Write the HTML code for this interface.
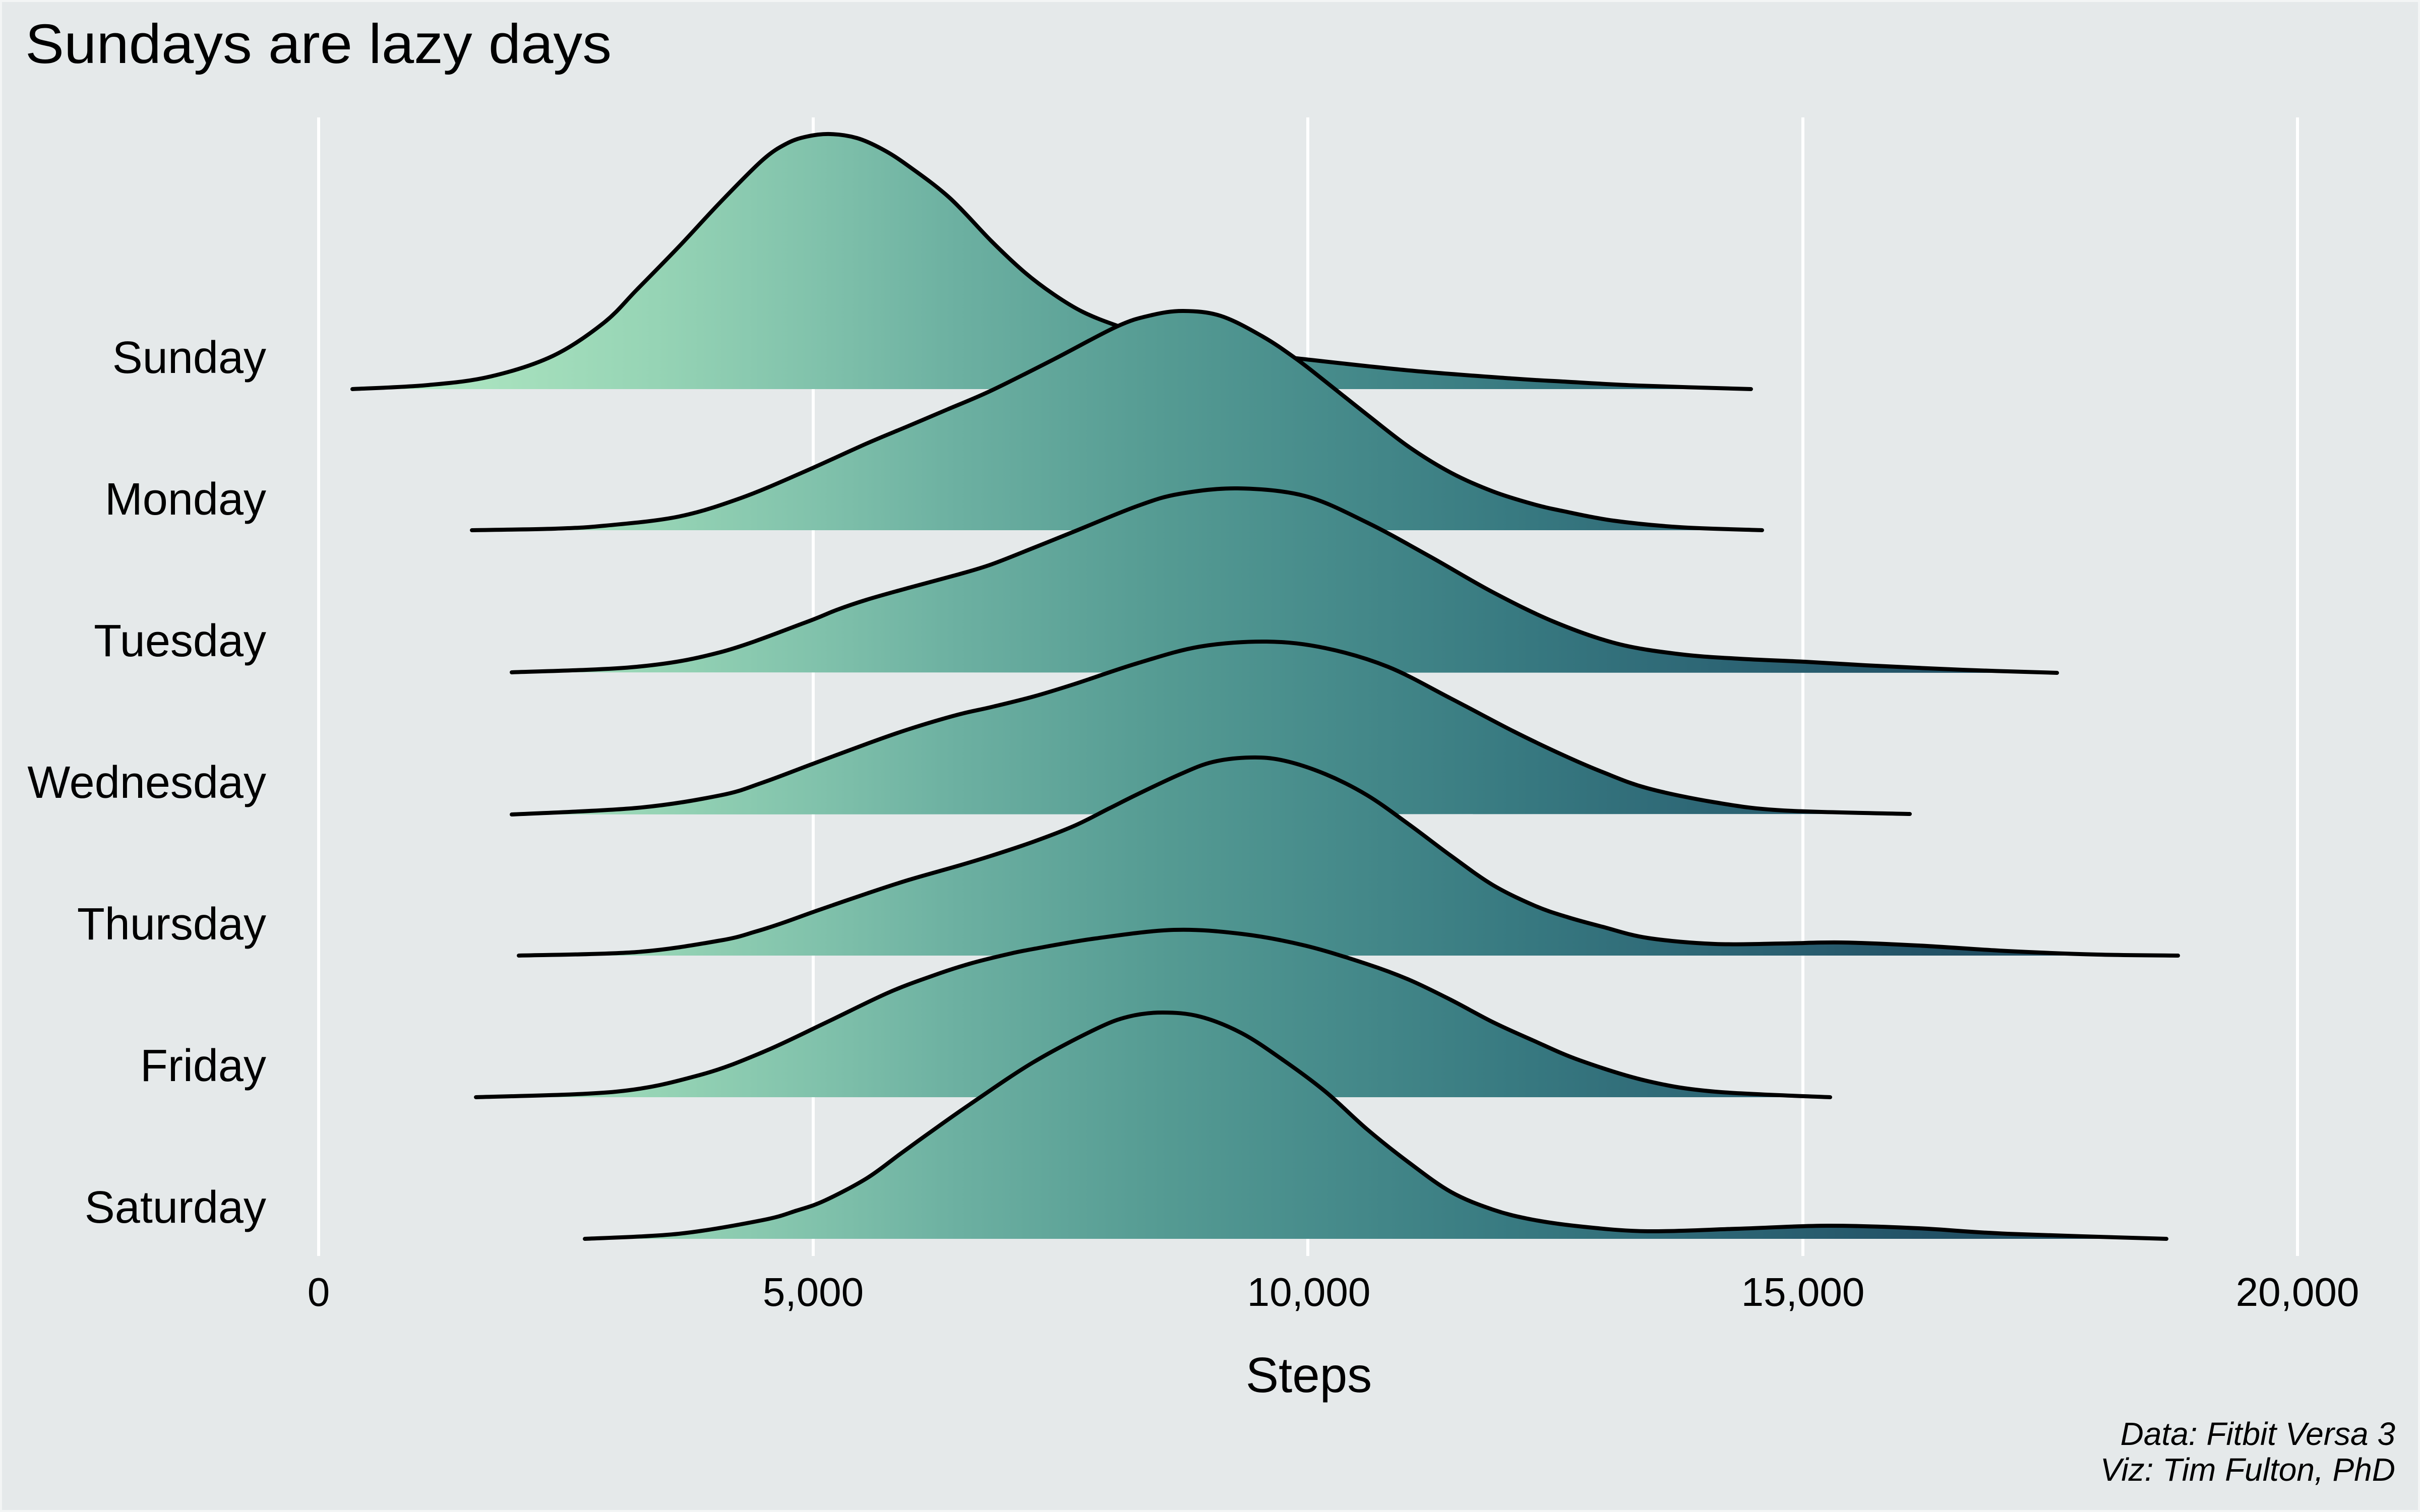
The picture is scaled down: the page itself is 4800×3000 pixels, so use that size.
<!DOCTYPE html>
<html>
<head>
<meta charset="utf-8">
<style>
html,body{margin:0;padding:0;background:#E5E9EA;overflow:hidden;}
svg{display:block;}
</style>
</head>
<body>
<svg xmlns="http://www.w3.org/2000/svg" width="4800" height="3000" viewBox="0 0 4800 3000">
<defs>
<linearGradient id="g" gradientUnits="userSpaceOnUse" x1="632" y1="0" x2="4557" y2="0">
<stop offset="0.017" stop-color="#b6eec8"/>
<stop offset="0.094" stop-color="#a6e0bd"/>
<stop offset="0.170" stop-color="#96d4b5"/>
<stop offset="0.247" stop-color="#82c3ac"/>
<stop offset="0.323" stop-color="#6cb0a1"/>
<stop offset="0.425" stop-color="#559b93"/>
<stop offset="0.501" stop-color="#488d8c"/>
<stop offset="0.603" stop-color="#387a81"/>
<stop offset="0.705" stop-color="#2d6675"/>
<stop offset="0.807" stop-color="#235367"/>
<stop offset="0.935" stop-color="#1b4356"/>
</linearGradient>
</defs>
<rect x="0" y="0" width="4800" height="3000" fill="#E5E9EA"/>
<rect x="2" y="2" width="4796" height="2996" fill="none" stroke="#f3f5f5" stroke-width="4"/>

<!-- title -->
<text x="50" y="125" font-family="Liberation Sans, sans-serif" font-size="110" fill="#000" textLength="1163" lengthAdjust="spacingAndGlyphs">Sundays are lazy days</text>

<!-- gridlines -->
<g stroke="#ffffff" stroke-width="6">
<line x1="632" y1="233" x2="632" y2="2492"/>
<line x1="1613" y1="233" x2="1613" y2="2492"/>
<line x1="2594" y1="233" x2="2594" y2="2492"/>
<line x1="3576" y1="233" x2="3576" y2="2492"/>
<line x1="4557" y1="233" x2="4557" y2="2492"/>
</g>

<!-- y labels -->
<g font-family="Liberation Sans, sans-serif" font-size="90" fill="#000" text-anchor="end">
<text x="528" y="740">Sunday</text>
<text x="528" y="1021">Monday</text>
<text x="528" y="1302">Tuesday</text>
<text x="528" y="1583">Wednesday</text>
<text x="528" y="1864">Thursday</text>
<text x="528" y="2145">Friday</text>
<text x="528" y="2426">Saturday</text>
</g>

<!-- ridges -->
<g id="ridges" stroke="#000" stroke-width="8" stroke-linejoin="round" stroke-linecap="round">
<!-- Sunday -->
<path fill="url(#g)" stroke="none" d="M699,772 L849,764 L973,747 L1097,706 L1197,641 L1263,575 L1346,490 L1429,401 L1512,318 L1560,285 L1600,271 L1647,266 L1700,274 L1750,296 L1800,328 L1883,392 L1966,478 L2032,540 L2090,584 L2148,619 L2215,646 L2297,672 L2380,689 L2470,700 L2563,710 L2795,735 L3000,751 L3100,757 L3249,765 L3473,772 Z"/>
<path fill="none" d="M699,772 L849,764 L973,747 L1097,706 L1197,641 L1263,575 L1346,490 L1429,401 L1512,318 L1560,285 L1600,271 L1647,266 L1700,274 L1750,296 L1800,328 L1883,392 L1966,478 L2032,540 L2090,584 L2148,619 L2215,646 L2297,672 L2380,689 L2470,700 L2563,710 L2795,735 L3000,751 L3100,757 L3249,765 L3473,772"/>
<!-- Monday -->
<path fill="url(#g)" stroke="none" d="M936,1052 L1100,1049 L1200,1043 L1346,1025 L1470,988 L1595,936 L1719,880 L1800,846 L1880,812 L1966,775 L2090,713 L2215,648 L2281,626 L2347,617 L2422,627 L2505,668 L2571,712 L2629,757 L2712,823 L2795,887 L2878,938 L2961,975 L3040,1000 L3100,1014 L3200,1033 L3332,1046 L3495,1052 Z"/>
<path fill="none" d="M936,1052 L1100,1049 L1200,1043 L1346,1025 L1470,988 L1595,936 L1719,880 L1800,846 L1880,812 L1966,775 L2090,713 L2215,648 L2281,626 L2347,617 L2422,627 L2505,668 L2571,712 L2629,757 L2712,823 L2795,887 L2878,938 L2961,975 L3040,1000 L3100,1014 L3200,1033 L3332,1046 L3495,1052"/>
<!-- Tuesday -->
<path fill="url(#g)" stroke="none" d="M1015,1334 L1263,1323 L1429,1294 L1595,1236 L1660,1210 L1719,1190 L1800,1167 L1900,1140 L1966,1120 L2050,1087 L2132,1054 L2256,1004 L2339,980 L2455,969 L2588,984 L2712,1037 L2836,1104 L2961,1175 L3083,1234 L3207,1277 L3332,1298 L3450,1307 L3580,1313 L3700,1320 L3893,1329 L4080,1335 Z"/>
<path fill="none" d="M1015,1334 L1263,1323 L1429,1294 L1595,1236 L1660,1210 L1719,1190 L1800,1167 L1900,1140 L1966,1120 L2050,1087 L2132,1054 L2256,1004 L2339,980 L2455,969 L2588,984 L2712,1037 L2836,1104 L2961,1175 L3083,1234 L3207,1277 L3332,1298 L3450,1307 L3580,1313 L3700,1320 L3893,1329 L4080,1335"/>
<!-- Wednesday -->
<path fill="url(#g)" stroke="none" d="M1015,1616 L1263,1603 L1429,1578 L1512,1553 L1611,1516 L1719,1476 L1802,1447 L1900,1418 L1966,1403 L2050,1382 L2132,1357 L2256,1316 L2380,1283 L2513,1273 L2629,1286 L2753,1323 L2878,1386 L3002,1451 L3100,1498 L3179,1532 L3268,1564 L3402,1592 L3536,1608 L3788,1615 Z"/>
<path fill="none" d="M1015,1616 L1263,1603 L1429,1578 L1512,1553 L1611,1516 L1719,1476 L1802,1447 L1900,1418 L1966,1403 L2050,1382 L2132,1357 L2256,1316 L2380,1283 L2513,1273 L2629,1286 L2753,1323 L2878,1386 L3002,1451 L3100,1498 L3179,1532 L3268,1564 L3402,1592 L3536,1608 L3788,1615"/>
<!-- Thursday -->
<path fill="url(#g)" stroke="none" d="M1029,1896 L1263,1889 L1429,1866 L1500,1848 L1553,1831 L1620,1807 L1719,1773 L1802,1746 L1900,1718 L1966,1698 L2050,1670 L2132,1638 L2200,1604 L2256,1576 L2339,1537 L2405,1512 L2480,1503 L2546,1509 L2629,1536 L2712,1578 L2795,1636 L2878,1698 L2961,1756 L3044,1797 L3110,1820 L3179,1839 L3268,1861 L3402,1873 L3536,1872 L3652,1870 L3804,1876 L3982,1887 L4161,1894 L4320,1896 Z"/>
<path fill="none" d="M1029,1896 L1263,1889 L1429,1866 L1500,1848 L1553,1831 L1620,1807 L1719,1773 L1802,1746 L1900,1718 L1966,1698 L2050,1670 L2132,1638 L2200,1604 L2256,1576 L2339,1537 L2405,1512 L2480,1503 L2546,1509 L2629,1536 L2712,1578 L2795,1636 L2878,1698 L2961,1756 L3044,1797 L3110,1820 L3179,1839 L3268,1861 L3402,1873 L3536,1872 L3652,1870 L3804,1876 L3982,1887 L4161,1894 L4320,1896"/>
<!-- Friday -->
<path fill="url(#g)" stroke="none" d="M944,2177 L1222,2166 L1388,2133 L1512,2088 L1636,2030 L1761,1970 L1850,1936 L1924,1912 L2000,1893 L2049,1883 L2173,1862 L2328,1845 L2463,1853 L2588,1876 L2712,1913 L2795,1944 L2878,1984 L2961,2028 L3040,2064 L3134,2104 L3268,2145 L3402,2166 L3630,2177 Z"/>
<path fill="none" d="M944,2177 L1222,2166 L1388,2133 L1512,2088 L1636,2030 L1761,1970 L1850,1936 L1924,1912 L2000,1893 L2049,1883 L2173,1862 L2328,1845 L2463,1853 L2588,1876 L2712,1913 L2795,1944 L2878,1984 L2961,2028 L3040,2064 L3134,2104 L3268,2145 L3402,2166 L3630,2177"/>
<!-- Saturday -->
<path fill="url(#g)" stroke="none" d="M1160,2458 L1346,2448 L1512,2421 L1580,2402 L1636,2382 L1719,2338 L1785,2290 L1843,2248 L1924,2191 L2049,2108 L2173,2042 L2239,2017 L2306,2009 L2380,2017 L2463,2050 L2546,2104 L2629,2166 L2712,2241 L2795,2307 L2878,2365 L2961,2400 L3040,2420 L3140,2434 L3268,2443 L3446,2438 L3625,2432 L3804,2437 L3982,2448 L4297,2458 Z"/>
<path fill="none" d="M1160,2458 L1346,2448 L1512,2421 L1580,2402 L1636,2382 L1719,2338 L1785,2290 L1843,2248 L1924,2191 L2049,2108 L2173,2042 L2239,2017 L2306,2009 L2380,2017 L2463,2050 L2546,2104 L2629,2166 L2712,2241 L2795,2307 L2878,2365 L2961,2400 L3040,2420 L3140,2434 L3268,2443 L3446,2438 L3625,2432 L3804,2437 L3982,2448 L4297,2458"/>
</g>

<!-- x tick labels -->
<g font-family="Liberation Sans, sans-serif" font-size="80" fill="#000" text-anchor="middle">
<text x="632" y="2591">0</text>
<text x="1613" y="2591">5,000</text>
<text x="2596" y="2591">10,000</text>
<text x="3576" y="2591">15,000</text>
<text x="4557" y="2591">20,000</text>
</g>

<!-- x axis title -->
<text x="2596" y="2762" font-family="Liberation Sans, sans-serif" font-size="98" fill="#000" text-anchor="middle">Steps</text>

<!-- caption -->
<g font-family="Liberation Sans, sans-serif" font-size="64" font-style="italic" fill="#000" text-anchor="end">
<text x="4751" y="2867">Data: Fitbit Versa 3</text>
<text x="4751" y="2938">Viz: Tim Fulton, PhD</text>
</g>
</svg>
<script>
(function(){
  try {
    var paths = document.querySelectorAll('#ridges path');
    for (var i = 0; i < paths.length; i++) {
      var p = paths[i];
      var d = p.getAttribute('d');
      var closed = /Z\s*$/.test(d);
      var nums = d.replace(/[MLZ]/g, ' ').trim().split(/[\s,]+/).map(Number);
      var pts = [];
      for (var k = 0; k + 1 < nums.length; k += 2) pts.push([nums[k], nums[k+1]]);
      if (pts.length < 3) continue;
      var out = 'M' + pts[0][0] + ',' + pts[0][1];
      for (var j = 0; j < pts.length - 1; j++) {
        var p0 = pts[j-1] || pts[j], p1 = pts[j], p2 = pts[j+1], p3 = pts[j+2] || pts[j+1];
        var c1x = p1[0] + (p2[0]-p0[0])/6, c1y = p1[1] + (p2[1]-p0[1])/6;
        var c2x = p2[0] - (p3[0]-p1[0])/6, c2y = p2[1] - (p3[1]-p1[1])/6;
        out += ' C' + c1x.toFixed(1) + ',' + c1y.toFixed(1) + ' ' + c2x.toFixed(1) + ',' + c2y.toFixed(1) + ' ' + p2[0] + ',' + p2[1];
      }
      if (closed) out += ' Z';
      p.setAttribute('d', out);
    }
  } catch (e) {}
})();
</script>
</body>
</html>
